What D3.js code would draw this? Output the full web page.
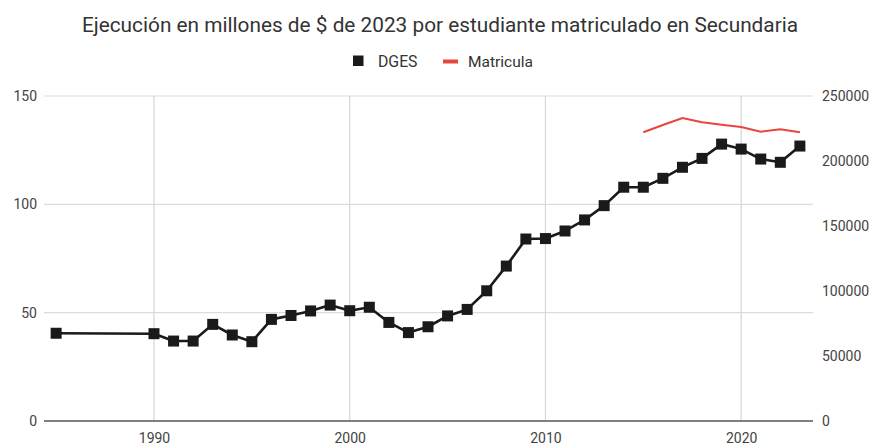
<!DOCTYPE html>
<html><head><meta charset="utf-8">
<script src="https://cdn.jsdelivr.net/npm/d3@7/dist/d3.min.js"></script>
<style>body{margin:0;background:#fff;}svg{display:block;font-family:Roboto, Arial, sans-serif;}</style>
</head><body><svg id="c" width="875" height="445"></svg>
<script>
const years = [1985,1990,1991,1992,1993,1994,1995,1996,1997,1998,1999,2000,2001,2002,2003,2004,2005,2006,2007,2008,2009,2010,2011,2012,2013,2014,2015,2016,2017,2018,2019,2020,2021,2022,2023];
const dges = [40.5,40.3,36.9,36.9,44.6,39.7,36.6,46.9,48.7,50.8,53.5,50.9,52.5,45.5,40.8,43.5,48.5,51.5,60.1,71.5,84,84.2,87.7,92.8,99.4,107.9,107.9,112,117.1,121.2,127.8,125.5,120.9,119.4,126.9];
const matYears = [2015,2016,2017,2018,2019,2020,2021,2022,2023];
const matricula = [222100,227700,233100,229800,227900,226200,222500,224400,222100];
const leftTicks = [0,50,100,150];
const rightTicks = [0,50000,100000,150000,200000,250000];
const xTicks = [1990,2000,2010,2020];

const svg = d3.select("#c");
const L = 44, R = 813, T = 96, B = 421;
const x = d3.scaleLinear().domain([1984.38, 2023.67]).range([L, R]);
const yL = d3.scaleLinear().domain([0,150]).range([B, T]);
const yR = d3.scaleLinear().domain([0,250000]).range([B, T]);

// title
svg.append("text").attr("x",440).attr("y",32).attr("text-anchor","middle")
  .attr("font-size",20.8).attr("fill","#333").text("Ejecución en millones de $ de 2023 por estudiante matriculado en Secundaria");

// legend
const lg = svg.append("g");
lg.append("rect").attr("x",353).attr("y",55.5).attr("width",10.5).attr("height",10.5).attr("fill","#1a1a1a");
lg.append("text").attr("x",378).attr("y",66.5).attr("font-size",15.8).attr("fill","#333").text("DGES");
lg.append("line").attr("x1",443).attr("x2",458).attr("y1",61.5).attr("y2",61.5).attr("stroke","#e8453c").attr("stroke-width",4);
lg.append("text").attr("x",468).attr("y",66.5).attr("font-size",15.5).attr("fill","#333").text("Matricula");

// grid
const g = svg.append("g");
g.selectAll(".hg").data(leftTicks.filter(d=>d>0)).join("line")
  .attr("x1",L).attr("x2",R).attr("y1",d=>yL(d)).attr("y2",d=>yL(d)).attr("stroke","#dcdcdc").attr("stroke-width",1.2);
g.selectAll(".vg").data(xTicks).join("line")
  .attr("x1",d=>x(d)).attr("x2",d=>x(d)).attr("y1",T).attr("y2",B).attr("stroke","#d6d6d6").attr("stroke-width",1.2);
g.append("line").attr("x1",L).attr("x2",R).attr("y1",B).attr("y2",B).attr("stroke","#555").attr("stroke-width",1.3);

// axes labels via d3 axes
const axL = svg.append("g").attr("transform",`translate(${L-7},0)`)
  .call(d3.axisLeft(yL).tickValues(leftTicks).tickSize(0).tickPadding(0));
const axR = svg.append("g").attr("transform",`translate(${R+9},0)`)
  .call(d3.axisRight(yR).tickValues(rightTicks).tickSize(0).tickPadding(0).tickFormat(d3.format("d")));
const axB = svg.append("g").attr("transform",`translate(0,${B})`)
  .call(d3.axisBottom(x).tickValues(xTicks).tickSize(0).tickPadding(0).tickFormat(d3.format("d")));
[axL,axR,axB].forEach(a=>{a.select(".domain").remove();
  a.selectAll("text").attr("font-size",14).attr("fill","#444").attr("font-family","Roboto, Arial, sans-serif");});
axB.selectAll("text").attr("y",22).attr("dy",null);

// series
const line = d3.line().x((d,i)=>x(years[i])).y(d=>yL(d));
svg.append("path").datum(dges).attr("d",line).attr("fill","none").attr("stroke","#1a1a1a").attr("stroke-width",2.6).attr("stroke-linejoin","round");
svg.selectAll(".pt").data(dges).join("rect")
  .attr("x",(d,i)=>x(years[i])-5.5).attr("y",d=>yL(d)-5.5).attr("width",11).attr("height",11).attr("fill","#1a1a1a");

const mline = d3.line().x((d,i)=>x(matYears[i])).y(d=>yR(d));
svg.append("path").datum(matricula).attr("d",mline).attr("fill","none").attr("stroke","#e8453c").attr("stroke-width",2);
</script></body></html>
